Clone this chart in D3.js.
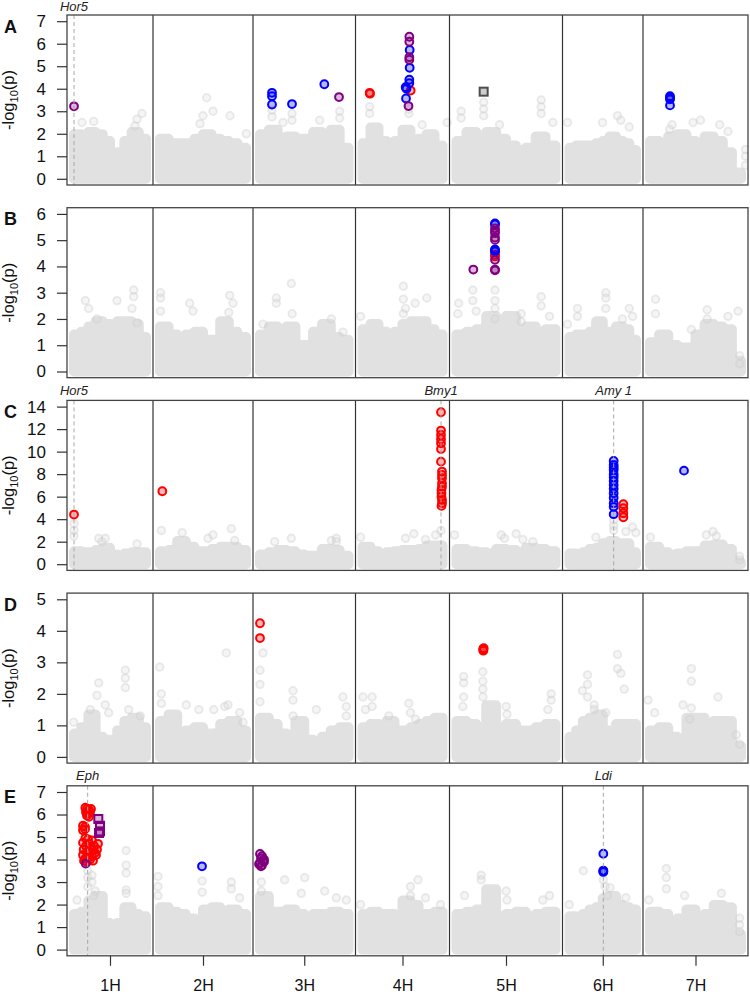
<!DOCTYPE html>
<html><head><meta charset="utf-8">
<script src="https://cdn.jsdelivr.net/npm/d3@7"></script>
<style>body{margin:0;background:#fff} svg{display:block;font-family:Arial,"Liberation Sans",Helvetica,sans-serif}</style>
</head><body>
<svg id="chart" width="750" height="998"></svg>
<script>
// ---------------- DATA ----------------
const chromosomes = ["1H","2H","3H","4H","5H","6H","7H"];
const chrLength = [516,600,615,564,678,483,630];   // relative chromosome lengths
const panelLabels = ["A","B","C","D","E"];
const yMax = [7,6,14,5,7];
const yTickStep = [1,1,2,1,1];

// dense background mass: top of the -log10(p) cloud, 10 bins per chromosome
const bgEnvA = [
 [2.2,2.1,2.3,2.2,1.9,1.3,1.4,1.9,2.3,2.0],
 [2.0,1.8,1.8,1.8,2.0,2.2,2.0,1.9,1.8,1.6],
 [2.2,2.4,1.9,2.1,2.0,2.0,2.3,1.5,2.4,1.6],
 [1.8,2.5,1.9,1.8,1.9,2.4,1.9,2.0,2.2,1.7],
 [1.9,2.3,2.1,2.3,2.0,1.7,1.5,1.6,2.1,1.7],
 [1.6,1.7,1.7,1.7,1.8,1.9,2.1,1.9,1.8,1.5],
 [1.9,1.7,2.1,2.2,1.9,1.6,2.1,1.9,1.4,0.5]];
const bgEnvB = [
 [1.6,1.7,1.9,2.1,2.0,1.6,2.1,2.1,2.0,1.5],
 [1.9,1.6,1.5,1.6,1.7,1.4,1.4,2.1,1.7,1.5],
 [1.6,1.9,1.8,1.9,1.2,1.2,1.7,2.0,1.5,1.4],
 [1.8,2.0,1.7,1.6,1.7,2.0,2.1,2.1,1.8,1.6],
 [1.6,1.7,1.8,2.3,1.9,2.3,1.6,1.9,1.7,1.8],
 [1.5,1.6,1.6,1.7,2.1,1.7,1.7,1.9,1.8,1.4],
 [1.3,1.6,1.2,1.1,1.1,1.6,2.0,1.9,1.8,0.6]];
const bgEnvC = [
 [1.6,1.5,1.5,1.7,1.9,1.3,1.2,1.4,1.5,1.5],
 [1.6,1.7,2.5,2.0,1.6,1.6,1.8,2.0,2.0,1.7],
 [1.3,1.5,1.7,1.6,1.3,1.2,1.2,1.8,1.7,1.2],
 [2.0,1.6,1.3,1.5,1.6,1.7,1.7,1.8,2.1,2.1],
 [1.8,1.6,1.5,1.4,1.8,1.7,1.5,1.9,1.8,1.6],
 [1.4,1.3,1.5,1.8,1.9,2.3,2.5,2.0,2.3,1.5],
 [2.0,1.5,1.3,1.4,1.6,1.6,2.1,2.2,1.8,0.6]];
const bgEnvD = [
 [0.9,1.1,1.5,0.8,0.7,0.7,1.0,1.3,1.4,1.1],
 [1.3,1.5,0.8,1.0,1.1,0.9,0.9,1.2,1.3,1.0],
 [1.4,1.2,0.9,0.7,1.3,0.7,0.6,0.8,1.0,1.1],
 [1.1,1.2,0.9,1.3,1.0,1.0,1.1,1.2,1.3,1.4],
 [1.3,1.2,1.0,1.8,1.0,1.2,1.0,1.0,1.1,1.2],
 [0.8,1.0,1.3,1.4,1.5,1.0,1.0,1.2,1.2,1.2],
 [1.0,1.1,0.8,0.7,1.4,1.4,1.0,1.3,1.3,0.5]];
const bgEnvE = [
 [1.8,1.9,2.4,2.6,1.4,1.3,1.4,2.1,1.8,1.7],
 [2.1,1.9,1.8,1.6,1.5,2.0,2.1,1.9,2.0,1.8],
 [2.6,1.9,1.9,2.0,1.8,1.7,1.8,1.8,1.9,1.8],
 [1.8,1.9,1.8,1.8,1.7,2.4,2.2,1.8,1.8,1.9],
 [1.8,1.9,2.0,2.9,1.7,1.8,1.9,1.7,1.8,1.9],
 [1.7,1.6,1.8,2.0,2.1,2.5,2.6,2.2,2.1,2.0],
 [1.9,1.8,1.3,1.6,2.0,1.7,1.8,2.2,2.1,0.9]];

// sparse non-significant markers [chromosome, position, -log10(p)]
const bgSparseA = [[1,408,2.35],[1,420,2.65],[1,450,2.9],[1,90,2.5],[1,160,2.55],
 [2,300,2.8],[2,322,3.6],[2,360,3.0],[2,282,2.45],[2,462,2.8],[2,560,2.0],
 [3,114,3.05],[3,114,2.75],[3,234,2.9],[3,234,2.6],[3,520,3.0],[3,520,2.7],[3,180,2.5],[3,400,2.6],
 [4,85,2.9],[4,85,3.2],[4,320,2.9],[4,320,3.1],[4,400,2.4],[4,550,2.5],
 [5,70,3.0],[5,70,2.7],[5,205,3.4],[5,205,3.1],[5,205,2.8],[5,550,3.5],[5,550,3.2],[5,550,2.9],[5,620,2.5],[5,300,2.4],
 [6,30,2.5],[6,240,2.5],[6,330,2.8],[6,350,2.6],[6,400,2.3],
 [7,160,2.2],[7,175,2.4],[7,300,2.5],[7,345,2.6],[7,460,2.4],[7,510,2.1],[7,615,1.0],[7,615,1.3],[7,615,0.6]];
const bgSparseB = [[1,400,2.85],[1,400,3.1],[1,390,2.4],[1,420,1.85],[1,130,2.4],[1,110,2.7],[1,180,2.0],[1,300,2.7],
 [2,45,2.8],[2,45,3.0],[2,45,2.3],[2,220,2.6],[2,240,2.3],[2,455,2.25],[2,460,2.9],[2,480,2.6],
 [3,140,2.8],[3,140,2.6],[3,230,3.35],[3,235,2.2],[3,470,2.0],[3,540,1.5],[3,60,1.8],
 [4,287,3.25],[4,287,2.75],[4,287,2.2],[4,428,2.8],[4,358,2.6],[4,300,2.4],[4,30,2.1],
 [5,50,2.2],[5,55,2.6],[5,140,3.1],[5,140,2.7],[5,160,2.3],[5,273,3.1],[5,273,2.7],[5,273,2.4],[5,273,2.0],[5,430,2.2],[5,430,1.9],[5,550,2.85],[5,550,2.5],[5,600,2.1],
 [6,260,3.0],[6,260,2.8],[6,260,2.4],[6,90,2.4],[6,90,2.1],[6,360,2.0],[6,420,2.1],[6,400,2.4],[6,30,1.8],
 [7,75,2.75],[7,75,2.2],[7,385,2.35],[7,385,2.0],[7,510,2.1],[7,570,2.3],[7,580,0.6],[7,580,0.3],[7,290,1.6]];
const bgSparseC = [[1,42,3.6],[1,42,3.0],[1,42,2.5],[1,190,2.3],[1,210,2.0],[1,230,2.3],[1,420,1.8],
 [2,50,3.0],[2,175,2.8],[2,330,2.3],[2,360,2.6],[2,470,3.15],[2,490,2.1],
 [3,130,2.0],[3,230,2.3],[3,470,2.1],[3,500,2.3],[3,500,2.0],
 [4,30,2.4],[4,300,2.3],[4,350,2.7],[4,420,2.2],[4,480,2.6],[4,513,3.0],
 [5,30,2.6],[5,310,2.6],[5,330,2.3],[5,400,2.7],[5,440,2.2],[5,500,2.0],
 [6,307,3.9],[6,307,3.4],[6,307,3.0],[6,380,2.9],[6,420,3.3],[6,440,2.8],[6,200,2.4],
 [7,45,2.4],[7,380,2.6],[7,420,2.9],[7,440,2.5],[7,580,0.7],[7,580,0.4]];
const bgSparseD = [[1,40,1.1],[1,140,1.5],[1,180,1.95],[1,190,2.35],[1,230,1.65],[1,250,1.4],[1,350,2.75],[1,350,2.5],[1,350,2.2],[1,370,1.5],[1,440,1.3],
 [2,50,2.0],[2,50,1.7],[2,40,2.85],[2,200,1.65],[2,275,1.5],[2,365,1.5],[2,430,1.6],[2,450,1.65],[2,440,3.3],[2,520,1.4],[2,540,1.1],
 [3,42,2.75],[3,42,2.3],[3,42,1.75],[3,60,3.3],[3,240,2.1],[3,240,1.8],[3,240,1.3],[3,380,1.5],[3,560,1.6],[3,560,1.3],[3,540,1.9],
 [4,45,1.9],[4,60,1.5],[4,100,1.9],[4,100,1.6],[4,200,1.3],[4,320,1.7],[4,330,1.4],[4,360,1.2],
 [5,85,2.55],[5,85,2.35],[5,85,1.9],[5,80,1.6],[5,200,2.7],[5,200,2.4],[5,200,2.15],[5,200,1.9],[5,340,1.6],[5,345,1.35],[5,610,1.8],[5,610,2.0],[5,590,1.5],
 [6,120,2.1],[6,150,2.6],[6,150,2.3],[6,150,1.9],[6,190,1.65],[6,190,1.5],[6,330,3.25],[6,330,2.8],[6,350,2.65],[6,370,2.15],[6,260,1.4],
 [7,30,1.8],[7,70,1.4],[7,240,1.65],[7,290,2.8],[7,290,2.4],[7,290,1.55],[7,280,1.2],[7,450,1.9],[7,560,0.7],[7,580,0.4]];
const bgSparseE = [[1,124,3.5],[1,124,3.2],[1,124,2.8],[1,150,3.3],[1,150,3.0],[1,170,2.6],[1,160,2.4],[1,355,4.4],[1,355,3.75],[1,355,3.4],[1,355,2.65],[1,355,2.5],[1,60,2.2],
 [2,30,3.25],[2,30,2.8],[2,30,2.4],[2,295,2.55],[2,295,3.05],[2,470,3.0],[2,470,2.7],[2,520,2.3],
 [3,50,3.0],[3,50,2.6],[3,190,3.1],[3,290,2.5],[3,310,3.2],[3,430,2.6],[3,500,2.3],[3,560,2.2],
 [4,30,2.0],[4,330,2.8],[4,330,2.4],[4,375,3.1],[4,420,2.3],[4,510,2.0],
 [5,190,3.3],[5,190,3.1],[5,340,2.6],[5,345,2.2],[5,600,2.4],[5,560,2.2],[5,90,2.4],
 [6,125,3.5],[6,245,3.1],[6,255,2.8],[6,285,2.75],[6,270,2.4],[6,380,2.3],[6,40,2.0],
 [7,35,2.2],[7,140,3.6],[7,140,3.2],[7,140,2.7],[7,250,2.4],[7,470,2.5],[7,580,1.4],[7,580,1.1],[7,580,0.8]];

// significant markers [chromosome, position, -log10(p)]
const redA = [[4,85,3.82],[4,87,3.78],[4,331,3.92]];
const blueA = [[3,114,3.82],[3,114,3.67],[3,114,3.30],[3,234,3.32],[3,428,4.2],
 [4,325,5.72],[4,325,4.93],[4,323,4.4],[4,323,4.25],[4,301,4.07],[4,306,4.0],[4,303,3.57],
 [7,162,3.67],[7,162,3.6],[7,162,3.53],[7,162,3.26]];
const purpleA = [[1,42,3.22],[3,516,3.63],[4,323,6.31],[4,323,6.09],[4,323,5.4],[4,323,5.29],[4,318,3.23]];
const squareGreyA = [[5,205,3.87]];

const redB = [[5,273,4.38],[5,273,4.45]];
const blueB = [[5,273,5.64],[5,273,5.6],[5,273,4.61],[5,273,4.65],[5,273,4.57]];
const purpleB = [[5,273,5.45],[5,273,5.35],[5,273,5.27],[5,273,5.1],[5,273,5.01],[5,273,4.25],[5,273,3.88],[5,273,3.85],[5,143,3.88]];

const redC = [[1,42,4.41],[2,56,6.48],
 [4,513,13.5],[4,513,11.87],[4,513,11.48],[4,513,11.1],[4,513,10.74],[4,513,10.24],[4,513,9.11],
 [4,519,8.23],[4,519,7.93],[4,519,7.64],[4,519,7.19],[4,519,6.89],[4,516,6.6],[4,516,6.3],[4,516,6.0],[4,519,5.71],[4,519,5.42],[4,516,5.18],
 [6,365,5.33],[6,365,4.97],[6,365,4.53],[6,365,4.17]];
const blueC = [[6,307,9.17],[6,307,8.82],[6,307,8.6],[6,307,8.37],[6,307,8.0],[6,307,7.72],[6,307,7.4],[6,307,7.04],
 [6,307,6.7],[6,307,6.3],[6,307,5.9],[6,307,5.42],[6,307,5.1],[6,307,4.44],[7,246,8.31]];

const redD = [[3,42,4.24],[3,42,3.77],[5,203,3.43],[5,203,3.40],[5,203,3.37],[5,205,3.45]];

const redE = [[1,110,6.3],[1,120,6.25],[1,132,6.2],[1,144,6.25],[1,114,6.1],[1,126,6.05],[1,138,6.1],[1,120,5.95],[1,132,5.9],
 [1,96,5.5],[1,108,5.45],[1,96,5.3],[1,108,5.35],
 [1,110,4.95],[1,126,4.9],[1,150,4.85],[1,96,4.75],[1,132,4.7],[1,114,4.6],[1,144,4.55],[1,162,4.6],[1,100,4.45],
 [1,156,4.45],[1,120,4.35],[1,138,4.3],[1,168,4.3],[1,96,4.2],[1,150,4.15],[1,126,4.1],[1,174,4.2],[1,110,4.05],
 [1,138,4.0],[1,156,3.95],[1,120,3.9],[1,180,4.45],[1,186,4.7],[1,102,3.95]];
const blueE = [[2,294,3.7],[6,245,4.26],[6,245,3.51],[6,245,3.45],[6,245,3.48]];
const purpleE = [[1,112,3.82],[3,42,4.25],[3,54,4.15],[3,48,4.05],[3,66,4.0],[3,60,3.95],[3,42,3.85],[3,54,3.75],[3,36,3.8],[3,66,3.9],[3,48,3.7]];
const squarePurpleE = [[1,188,5.8],[1,198,5.5],[1,198,5.25],[1,192,5.18]];

// candidate genes [label, chromosome, position]
const genesA = [["Hor5",1,42]];
const genesC = [["Hor5",1,42],["Bmy1",4,513],["Amy 1",6,307]];
const genesE = [["Eph",1,124],["Ldi",6,245]];

// ---------------- CHART ----------------
const colors = {red:"#ff0000", blue:"#0000ff", purple:"#800080", grey:"#4d4d4d"};
const panels = [
 {env:bgEnvA, sparse:bgSparseA, red:redA, blue:blueA, purple:purpleA, sqGrey:squareGreyA, sqPurple:[], genes:genesA},
 {env:bgEnvB, sparse:bgSparseB, red:redB, blue:blueB, purple:purpleB, sqGrey:[], sqPurple:[], genes:[]},
 {env:bgEnvC, sparse:bgSparseC, red:redC, blue:blueC, purple:[], sqGrey:[], sqPurple:[], genes:genesC},
 {env:bgEnvD, sparse:bgSparseD, red:redD, blue:[], purple:[], sqGrey:[], sqPurple:[], genes:[]},
 {env:bgEnvE, sparse:bgSparseE, red:redE, blue:blueE, purple:purpleE, sqGrey:[], sqPurple:squarePurpleE, genes:genesE}
];

const svg = d3.select("#chart");
const left = 67, right = 748, boxH = 170, firstTop = 15, step = 192.7, pad = 6.2;
const total = d3.sum(chrLength);
const chrStart = chrLength.map((d,i) => d3.sum(chrLength.slice(0,i)));
const x = d3.scaleLinear().domain([0,total]).range([left,right]);
const gx = (c,p) => x(chrStart[c-1] + p);
const defs = svg.append("defs");

panels.forEach((P, i) => {
  const top = firstTop + i*step, bottom = top + boxH;
  const y = d3.scaleLinear().domain([0, yMax[i]]).range([bottom - pad, top + pad]);
  const g = svg.append("g");
  defs.append("clipPath").attr("id","clip"+i).append("rect")
    .attr("x",left).attr("y",top).attr("width",right-left).attr("height",boxH);
  const plot = g.append("g").attr("clip-path",`url(#clip${i})`);

  // dense background cloud (skyline of marker columns)
  P.env.forEach((vals, c) => {
    const n = vals.length, L = chrLength[c];
    const x0 = x(chrStart[c]) + 7, x1 = x(chrStart[c] + L) - 7;
    const pts = vals.map((v,k) => [x0 + (x1 - x0) * k / n, v]);
    pts.push([x1, vals[n-1]]);
    const area = d3.area().curve(d3.curveStepAfter)
      .x(d => d[0]).y0(y(0)).y1(d => Math.min(y(d[1]) + 5, y(0)));
    plot.append("path").attr("d", area(pts))
      .attr("fill","#e1e1e1").attr("stroke","#e1e1e1")
      .attr("stroke-width",10).attr("stroke-linejoin","round");
  });
  // sparse grey markers
  plot.append("g").selectAll("circle").data(P.sparse).join("circle")
    .attr("cx", d => gx(d[0], d[1])).attr("cy", d => y(d[2])).attr("r",3.8)
    .attr("fill","#d6d6d6").attr("fill-opacity",0.25)
    .attr("stroke","#cccccc").attr("stroke-opacity",0.4).attr("stroke-width",1.8);

  // gene lines
  P.genes.forEach(gn => {
    const gxp = gx(gn[1], gn[2]);
    g.append("line").attr("x1",gxp).attr("x2",gxp).attr("y1",top).attr("y2",bottom)
      .attr("stroke","#a8a8a8").attr("stroke-width",1).attr("stroke-dasharray","4,3");
    g.append("text").attr("x",gxp).attr("y", top - (i===0 ? 4.5 : 5.5))
      .attr("text-anchor","middle").attr("font-style","italic").attr("font-size",13)
      .attr("fill","#222").text(gn[0]);
  });

  // chromosome separators
  g.append("g").selectAll("line").data(chrStart.slice(1)).join("line")
    .attr("x1", d => x(d)).attr("x2", d => x(d)).attr("y1", top).attr("y2", bottom)
    .attr("stroke","#333").attr("stroke-width",1.2);

  // significant markers
  const drawCircles = (data, col) => plot.append("g").selectAll("circle").data(data).join("circle")
    .attr("cx", d => gx(d[0], d[1])).attr("cy", d => y(d[2])).attr("r",3.9)
    .attr("fill",col).attr("fill-opacity",0.28).attr("stroke",col).attr("stroke-width",2);
  const drawSquares = (data, col) => plot.append("g").selectAll("rect").data(data).join("rect")
    .attr("x", d => gx(d[0], d[1]) - 4).attr("y", d => y(d[2]) - 4).attr("width",8).attr("height",8)
    .attr("fill",col).attr("fill-opacity",0.28).attr("stroke",col).attr("stroke-width",2);
  drawCircles(P.red, colors.red);
  drawCircles(P.blue, colors.blue);
  drawCircles(P.purple, colors.purple);
  drawSquares(P.sqGrey, colors.grey);
  drawSquares(P.sqPurple, colors.purple);

  // box
  g.append("rect").attr("x",left).attr("y",top).attr("width",right-left).attr("height",boxH)
    .attr("fill","none").attr("stroke","#444").attr("stroke-width",1.3);

  // y axis
  const ya = d3.axisLeft(y).tickValues(d3.range(0, yMax[i] + 0.001, yTickStep[i]))
    .tickSize(10).tickPadding(11).tickFormat(d3.format("d"));
  const yg = g.append("g").attr("transform",`translate(${left},0)`).call(ya);
  yg.select(".domain").remove();
  yg.selectAll("line").attr("stroke","#333").attr("stroke-width",1.2);
  yg.selectAll("text").attr("font-size",17).attr("fill","#111").attr("font-family","Arial,'Liberation Sans',sans-serif");

  // y title
  const t = g.append("text").attr("transform",`translate(14,${(top+bottom)/2}) rotate(-90)`)
    .attr("text-anchor","middle").attr("font-size",16.5).attr("fill","#111");
  t.append("tspan").text("-log");
  t.append("tspan").attr("font-size",11).attr("dy",4).text("10");
  t.append("tspan").attr("dy",-4).text("(p)");

  // panel letter
  g.append("text").attr("x",4).attr("y",top + 17.5).attr("font-size",18)
    .attr("font-weight","bold").attr("fill","#111").text(panelLabels[i]);

  // x axis on last panel
  if (i === panels.length - 1) {
    const mids = chrLength.map((L,c) => chrStart[c] + L/2);
    const xa = d3.axisBottom(x).tickValues(mids).tickSize(10).tickPadding(14)
      .tickFormat((d,k) => chromosomes[k]);
    const xg = g.append("g").attr("transform",`translate(0,${bottom})`).call(xa);
    xg.select(".domain").remove();
    xg.selectAll("line").attr("stroke","#333").attr("stroke-width",1.2);
    xg.selectAll("text").attr("font-size",16).attr("fill","#111").attr("font-family","Arial,'Liberation Sans',sans-serif");
  }
});
</script>
</body></html>
